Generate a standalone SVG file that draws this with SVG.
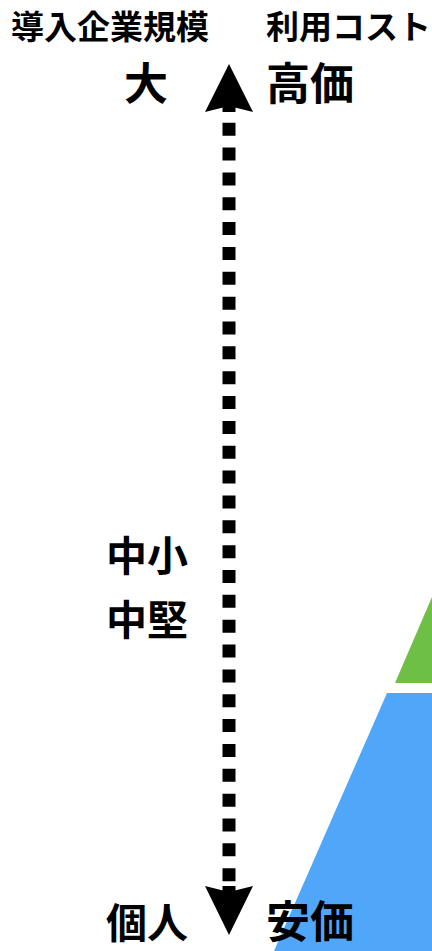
<svg xmlns="http://www.w3.org/2000/svg" width="432" height="951" viewBox="0 0 432 951">
<style>
text{font-family:"Noto Sans CJK JP","Noto Sans CJK SC",sans-serif;font-weight:bold;fill:#000}
.h{font-size:33px}
.big{font-size:44px}
.mid{font-size:41px}
</style>
<rect width="432" height="951" fill="#fff"/>
<g id="shapes">
<polygon id="blue" points="274,951 387,693 432,693 432,951" fill="#50a6f9"/>
<polygon id="green" points="395,683 432,683 432,597" fill="#6dbf45"/>
</g>
<g id="connectors">
<line x1="229" y1="122.7" x2="229" y2="881.5" stroke="#000" stroke-width="13" stroke-dasharray="13 11.85"/>
<line x1="229" y1="100" x2="229" y2="112" stroke="#000" stroke-width="13"/>
<polygon points="229,64 253,112 229,106 205,112" fill="#000"/>
<line x1="229" y1="886" x2="229" y2="898" stroke="#000" stroke-width="13"/>
<polygon points="229,935 253,886 229,892 205,886" fill="#000"/>
</g>
<g id="header-left"><text class="h" x="11" y="39">導入企業規模</text></g>
<g id="header-right"><text class="h" x="266" y="39">利用コスト</text></g>
<g id="label-large"><text class="big" x="124" y="100">大</text></g>
<g id="label-high"><text class="big" x="266" y="100">高価</text></g>
<g id="label-small"><text class="mid" x="106" y="571">中小</text></g>
<g id="label-mid"><text class="mid" x="106" y="635">中堅</text></g>
<g id="label-individual"><text class="mid" x="106" y="938">個人</text></g>
<g id="label-cheap"><text class="big" x="266" y="938">安価</text></g>
</svg>
